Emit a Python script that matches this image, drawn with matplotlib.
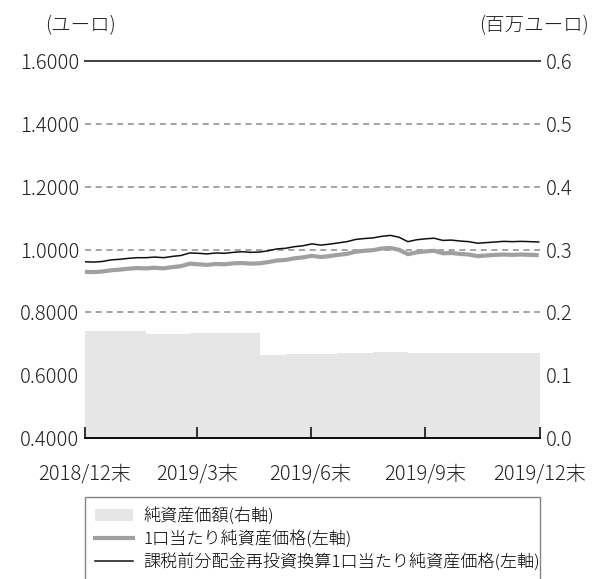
import numpy as np
import pandas as pd
import matplotlib
matplotlib.use("Agg")
import matplotlib.pyplot as plt
from matplotlib.patches import Patch
from matplotlib.lines import Line2D

plt.rcParams['font.family'] = ['Noto Sans CJK JP', 'DejaVu Sans']
plt.rcParams['font.weight'] = 'light'

# weekly observations, 2018/12/31 .. 2019/12/30
dates = pd.date_range("2018-12-31", periods=53, freq="7D")

nav_unit = [0.929, 0.928, 0.930, 0.934, 0.936, 0.939, 0.941, 0.940, 0.942, 0.940,
            0.944, 0.947, 0.955, 0.953, 0.951, 0.954, 0.953, 0.956, 0.957, 0.955,
            0.956, 0.960, 0.965, 0.967, 0.972, 0.975, 0.980, 0.976, 0.979, 0.983,
            0.986, 0.993, 0.996, 0.998, 1.003, 1.005, 0.999, 0.985, 0.991, 0.994,
            0.996, 0.988, 0.989, 0.986, 0.984, 0.979, 0.981, 0.983, 0.984, 0.983,
            0.984, 0.983, 0.982]

nav_reinvest = [0.961, 0.960, 0.962, 0.967, 0.969, 0.972, 0.974, 0.974, 0.976, 0.974,
                0.978, 0.981, 0.989, 0.988, 0.986, 0.989, 0.988, 0.991, 0.993, 0.991,
                0.992, 0.996, 1.002, 1.004, 1.009, 1.012, 1.018, 1.014, 1.017, 1.021,
                1.025, 1.032, 1.035, 1.037, 1.042, 1.045, 1.039, 1.025, 1.031, 1.034,
                1.036, 1.029, 1.030, 1.027, 1.025, 1.020, 1.022, 1.024, 1.026, 1.025,
                1.026, 1.025, 1.024]

net_assets = [0.170, 0.171, 0.171, 0.171, 0.171, 0.171, 0.171,
              0.166, 0.166, 0.166, 0.166, 0.166, 0.167, 0.167, 0.167, 0.167, 0.167,
              0.167, 0.167, 0.167, 0.132,
              0.132, 0.132, 0.133, 0.133, 0.133, 0.134, 0.134, 0.134, 0.135, 0.135,
              0.136, 0.136, 0.137, 0.137, 0.137, 0.137, 0.136, 0.136, 0.136, 0.136,
              0.136, 0.136, 0.135, 0.135, 0.135, 0.135, 0.135, 0.135, 0.135, 0.135,
              0.135, 0.135]

tick_dates = pd.to_datetime(["2018-12-31", "2019-03-31", "2019-06-30", "2019-09-30", "2019-12-31"])
tick_labels = ["2018/12末", "2019/3末", "2019/6末", "2019/9末", "2019/12末"]
left_ticks = [0.4, 0.6, 0.8, 1.0, 1.2, 1.4, 1.6]
right_ticks = [0.0, 0.1, 0.2, 0.3, 0.4, 0.5, 0.6]

fig = plt.figure(figsize=(5.97, 5.79), dpi=100)
ax1 = fig.add_axes([0.1424, 0.2435, 0.7621, 0.6511])
ax2 = ax1.twinx()

# net assets (right axis) behind the lines; last level held to the period end
fill_x = list(dates) + [tick_dates[-1]]
fill_y = net_assets + [net_assets[-1]]
ax2.fill_between(fill_x, fill_y, 0, step="post", color="#e6e6e6", lw=0, zorder=2)
ax2.set_ylim(0, 0.6)
ax2.set_yticks(right_ticks)
ax2.set_yticklabels([f"{v:.1f}" for v in right_ticks])
ax2.yaxis.grid(True, ls=(0, (4, 3)), color="#8c8c8c", lw=1.1, zorder=1)
ax2.set_axisbelow(True)

ax1.set_zorder(ax2.get_zorder() + 1)
ax1.patch.set_visible(False)
ax1.plot(dates, nav_unit, color="#a0a0a0", lw=3.0, solid_capstyle="butt")
ax1.plot(dates, nav_reinvest, color="#111111", lw=1.1)
ax1.set_ylim(0.4, 1.6)
ax1.set_yticks(left_ticks)
ax1.set_yticklabels([f"{v:.4f}" for v in left_ticks])
ax1.set_xlim(tick_dates[0], tick_dates[-1])
ax1.set_xticks(tick_dates)
ax1.set_xticklabels(tick_labels)

for ax in (ax1, ax2):
    for s in ("left", "right"):
        ax.spines[s].set_visible(False)
    ax.spines["top"].set_color("#444444")
    ax.spines["top"].set_linewidth(1.4)
    ax.spines["bottom"].set_color("#111111")
    ax.spines["bottom"].set_linewidth(1.4)
    ax.tick_params(axis="y", length=0, pad=4, labelsize=14.5, colors="#222222")

ax1.tick_params(axis="x", direction="in", length=8, width=1.3, pad=18,
                labelsize=14.5, colors="#222222")

fig.text(0.135, 0.955, "(ユーロ)", fontsize=14, ha="center", va="center", color="#222222")
fig.text(0.895, 0.955, "(百万ユーロ)", fontsize=14, ha="center", va="center", color="#222222")

handles = [Patch(facecolor="#e6e6e6", edgecolor="none"),
           Line2D([], [], color="#a0a0a0", lw=3.0),
           Line2D([], [], color="#111111", lw=1.1)]
labels = ["純資産価額(右軸)", "1口当たり純資産価格(左軸)", "課税前分配金再投資換算1口当たり純資産価格(左軸)"]
leg = fig.legend(handles, labels, loc="upper left",
                 bbox_to_anchor=(0.1424, 1 - 497 / 579, 0.7621, 0.0),
                 mode="expand", fontsize=12.3, frameon=True, fancybox=False,
                 edgecolor="#666666", handlelength=2.2, handletextpad=0.6,
                 labelspacing=0.3, borderpad=0.6, borderaxespad=0)
leg.get_frame().set_linewidth(1.0)

fig.savefig("out.png", dpi=100)
